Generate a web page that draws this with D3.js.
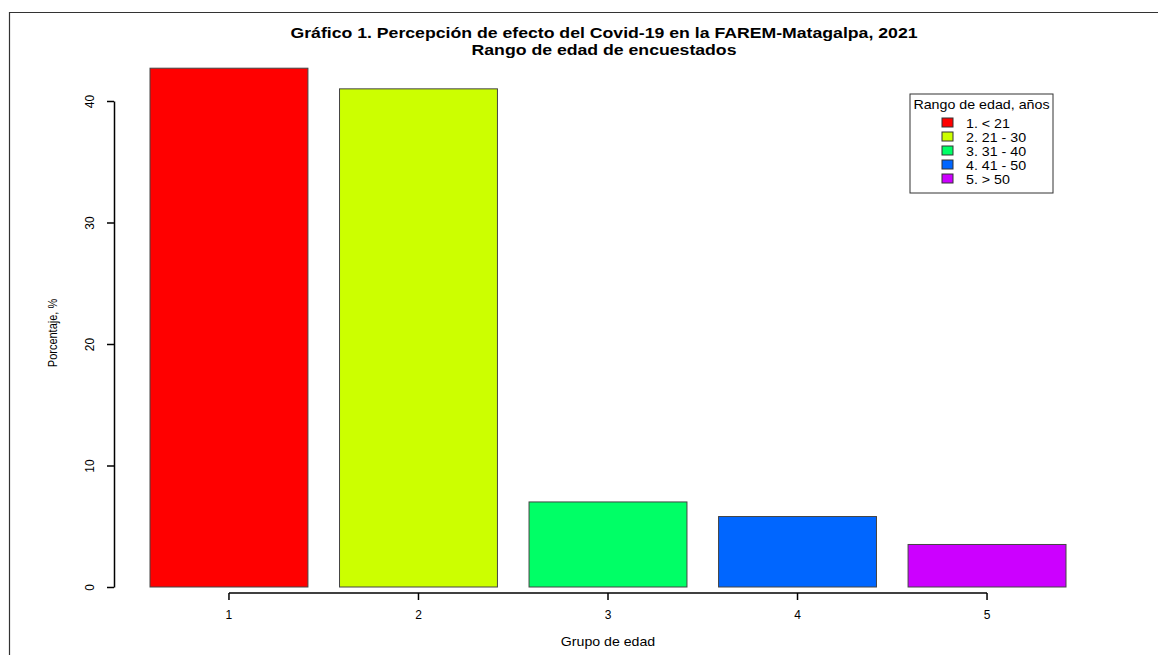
<!DOCTYPE html>
<html>
  <head>
    <script src="https://d3js.org/d3.v7.min.js"></script>
    <style>
body { margin: 0; background: #fff; }
text { font-family: "Liberation Sans", Arial, sans-serif; fill: #000; }
    </style>
  </head>
  <body>
    <script>
// data
var groups = ["1", "2", "3", "4", "5"];
var values = [42.7, 41.0, 7.0, 5.8, 3.5];
var colors = ["#FF0000", "#CCFF00", "#00FF66", "#0066FF", "#CC00FF"];
var legendLabels = ["1. < 21", "2. 21 - 30", "3. 31 - 40", "4. 41 - 50", "5. > 50"];
var yTicks = [0, 10, 20, 30, 40];
var titleLines = ["Gráfico 1. Percepción de efecto del Covid-19 en la FAREM-Matagalpa, 2021", "Rango de edad de encuestados"];

var W = 1158, H = 655;
var sx = 1.14; // the screenshot's text is a bit wider than it is tall
var svg = d3.select("body").append("svg").attr("width", W).attr("height", H);

// frame (left + top edges only, like the screenshot)
svg.append("path").attr("d", "M9.5," + H + "V12.5H" + W)
	.attr("fill", "none").attr("stroke", "#333").attr("stroke-width", 1.2);

var x = d3.scaleBand().domain(groups).range([150, 1066]).paddingInner(1 / 6).paddingOuter(0);
var y = d3.scaleLinear().domain([0, 40]).range([587, 101]);

// bars
svg.append("g").selectAll("rect").data(values).enter().append("rect")
	.attr("x", function (d, i) { return x(groups[i]); })
	.attr("y", function (d) { return y(d); })
	.attr("width", x.bandwidth())
	.attr("height", function (d) { return y(0) - y(d); })
	.attr("fill", function (d, i) { return colors[i]; })
	.attr("stroke", "#444").attr("stroke-width", 1);

// y axis
var gy = svg.append("g").attr("transform", "translate(114,0)")
	.call(d3.axisLeft(y).tickValues(yTicks).tickSize(7).tickSizeOuter(0));
gy.select(".domain").attr("stroke", "#000").attr("stroke-width", 1.5);
gy.selectAll(".tick line").attr("stroke", "#000").attr("stroke-width", 1.5);
gy.selectAll(".tick text")
	.attr("x", 0).attr("dy", null)
	.attr("text-anchor", "middle")
	.attr("transform", "translate(-20,0) rotate(-90) scale(1," + sx + ")")
	.style("font-size", "12px").style("font-family", "Liberation Sans, Arial, sans-serif");

// x axis
var gx = svg.append("g").attr("transform", "translate(0,593)")
	.call(d3.axisBottom(x).tickSize(7).tickSizeOuter(0).tickPadding(10));
var first = x(groups[0]) + x.bandwidth() / 2, last = x(groups[groups.length - 1]) + x.bandwidth() / 2;
gx.select(".domain").attr("d", "M" + first + ",0H" + last).attr("stroke", "#000").attr("stroke-width", 1.5);
gx.selectAll(".tick line").attr("stroke", "#000").attr("stroke-width", 1.5);
gx.selectAll(".tick text").style("font-size", "12px").style("font-family", "Liberation Sans, Arial, sans-serif");

// axis titles
svg.append("text").attr("transform", "translate(608,646) scale(1.18,1)").attr("text-anchor", "middle")
	.style("font-size", "12px").text("Grupo de edad");
svg.append("text").attr("transform", "translate(57,333) rotate(-90) scale(1,1.2)").attr("text-anchor", "middle")
	.style("font-size", "11px").text("Porcentaje, %");

// title
svg.selectAll(".title").data(titleLines).enter().append("text")
	.attr("class", "title")
	.attr("transform", function (d, i) { return "translate(604," + (38 + i * 17) + ") scale(" + sx + ",1)"; })
	.attr("text-anchor", "middle")
	.style("font-size", "15.5px").style("font-weight", "bold")
	.text(function (d) { return d; });

// legend
var lg = svg.append("g").attr("transform", "translate(910,94)");
lg.append("rect").attr("width", 143).attr("height", 99)
	.attr("fill", "#fff").attr("stroke", "#333").attr("stroke-width", 1);
lg.append("text").attr("transform", "translate(71.5,15) scale(" + sx + ",1)").attr("text-anchor", "middle")
	.style("font-size", "12.5px").text("Rango de edad, años");
var items = lg.selectAll(".item").data(legendLabels).enter().append("g")
	.attr("class", "item")
	.attr("transform", function (d, i) { return "translate(0," + (29 + i * 14) + ")"; });
items.append("rect").attr("x", 32).attr("y", -5).attr("width", 11).attr("height", 9)
	.attr("fill", function (d, i) { return colors[i]; }).attr("stroke", "#333");
items.append("text").attr("transform", "translate(56,4.5) scale(" + sx + ",1)")
	.style("font-size", "12.5px").text(function (d) { return d; });
    </script>
  </body>
</html>
